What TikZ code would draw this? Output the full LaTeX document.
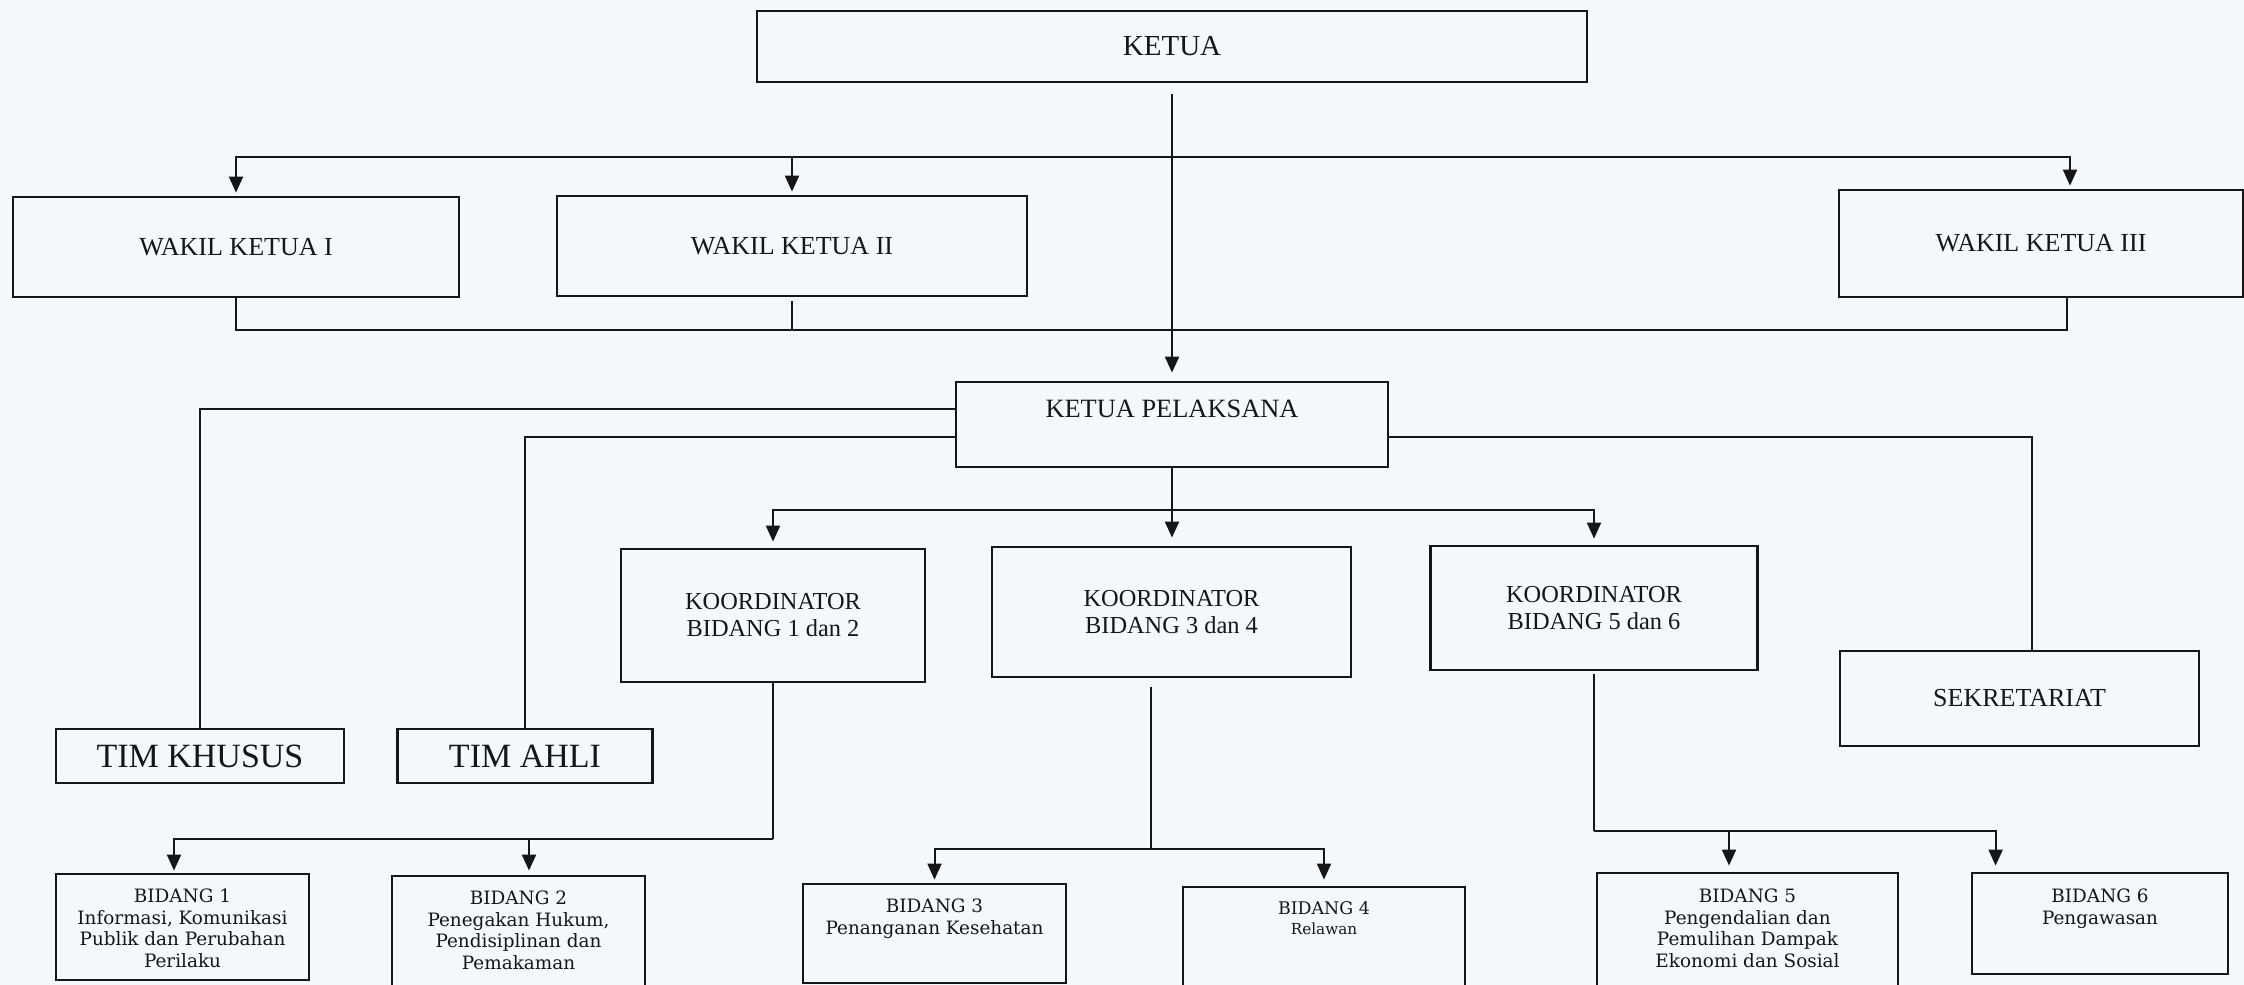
\documentclass[tikz,border=0pt]{standalone}
\usepackage{fontspec}
\setmainfont{Liberation Serif}
\newfontfamily\bfnt{DejaVu Serif}
\usetikzlibrary{arrows.meta,calc}
\definecolor{bgc}{HTML}{F3F8FC}
\definecolor{ink}{HTML}{161616}
\tikzset{
  box/.style={draw=ink, line width=1.4pt, inner sep=0pt, align=center, text=ink},
  con/.style={draw=ink, line width=1pt},
  arr/.style={con, -{Triangle[length=8pt,width=7pt]}},
  btxt/.style={inner sep=0pt, align=center, anchor=north, text=ink, font=\bfnt\fontsize{9.2}{10.8}\selectfont},
}
\begin{document}
\begin{tikzpicture}[x=0.5pt,y=-0.5pt]
\useasboundingbox (0,0) rectangle (2244,985);
\fill[bgc] (0,0) rectangle (2244,985);
\clip (0,0) rectangle (2244,985);

% top level
\node[box, minimum width=415pt, minimum height=35.5pt, font=\fontsize{14.5}{16}\selectfont] (ketua) at (1172,46.5) {KETUA};
\node[box, minimum width=223pt, minimum height=50pt, font=\fontsize{13}{15}\selectfont] (wk1) at (236,247) {WAKIL KETUA I};
\node[box, minimum width=235pt, minimum height=50pt, font=\fontsize{13}{15}\selectfont] (wk2) at (792,246) {WAKIL KETUA II};
\node[box, minimum width=202pt, minimum height=53.5pt, font=\fontsize{13}{15}\selectfont] (wk3) at (2041,243.5) {WAKIL KETUA III};

% ketua pelaksana
\node[box, minimum width=216pt, minimum height=42.5pt] (kp) at (1172,424.5) {};
\node[inner sep=0pt, text=ink, font=\fontsize{13.2}{15}\selectfont] (kpt) at ([yshift=8pt]kp.center) {KETUA PELAKSANA};

% koordinators
\node[box, minimum width=152pt, minimum height=66.5pt, font=\fontsize{12.2}{13.5}\selectfont] (k12) at (773,615.5) {KOORDINATOR\\BIDANG 1 dan 2};
\node[box, minimum width=179.5pt, minimum height=65pt, font=\fontsize{12.2}{13.5}\selectfont] (k34) at (1171.5,612) {KOORDINATOR\\BIDANG 3 dan 4};
\node[box, minimum width=163.5pt, minimum height=62pt, font=\fontsize{12.2}{13.5}\selectfont] (k56) at (1594,608) {KOORDINATOR\\BIDANG 5 dan 6};
\node[box, minimum width=179.5pt, minimum height=47.5pt, font=\fontsize{13}{15}\selectfont] (sek) at (2019.5,698.5) {SEKRETARIAT};

% tim
\node[box, minimum width=144pt, minimum height=27pt, font=\fontsize{17}{19}\selectfont] (timk) at (200,756) {TIM KHUSUS};
\node[box, minimum width=127.5pt, minimum height=27pt, font=\fontsize{17}{19}\selectfont] (tima) at (525,756) {TIM AHLI};

% bidang boxes
\node[box, minimum width=126.5pt, minimum height=53pt] (b1) at (182.5,927) {};
\node[box, minimum width=126.5pt, minimum height=62pt] (b2) at (518.5,938) {};
\node[box, minimum width=131.5pt, minimum height=49.5pt] (b3) at (934.5,933.5) {};
\node[box, minimum width=141pt, minimum height=56.5pt] (b4) at (1324,943.5) {};
\node[box, minimum width=150.5pt, minimum height=63.5pt] (b5) at (1747.5,936.5) {};
\node[box, minimum width=128pt, minimum height=50.5pt] (b6) at (2100,923.5) {};

\node[btxt] (b1t) at ([yshift=-8pt]b1.north) {BIDANG 1\\Informasi, Komunikasi\\Publik dan Perubahan\\Perilaku};
\node[btxt] (b2t) at ([yshift=-8pt]b2.north) {BIDANG 2\\Penegakan Hukum,\\Pendisiplinan dan\\Pemakaman};
\node[btxt] (b3t) at ([yshift=-8pt]b3.north) {BIDANG 3\\Penanganan Kesehatan};
\node[btxt, font=\bfnt\fontsize{8.7}{10}\selectfont] (b4t) at ([yshift=-8pt]b4.north) {BIDANG 4\\{\fontsize{7.6}{10}\selectfont Relawan}};
\node[btxt] (b5t) at ([yshift=-8.5pt]b5.north) {BIDANG 5\\Pengendalian dan\\Pemulihan Dampak\\Ekonomi dan Sosial};
\node[btxt] (b6t) at ([yshift=-8.5pt]b6.north) {BIDANG 6\\Pengawasan};

% bus coordinates
\coordinate (busA) at (1172,157);
\coordinate (busB) at (1172,330);
\coordinate (busC) at (1172,510);
\coordinate (busD) at (773,839);
\coordinate (busE) at (1151,849);
\coordinate (busF) at (1594,831);

% ketua -> ketua pelaksana
\draw[arr, shorten <=5.5pt, shorten >=4pt] (ketua.south) -- (ketua.south |- kp.north);

% ketua bus to wakil
\draw[arr, shorten >=1.5pt] (busA) -| (wk1.north);
\draw[arr, shorten >=1.5pt] (busA) -| (wk2.north);
\draw[arr, shorten >=1.5pt] (busA) -| ([xshift=14.5pt]wk3.north);

% wakil bottom bus
\draw[con] (wk1.south) |- (busB);
\draw[con, shorten <=2pt] (wk2.south) -- (wk2.south |- busB);
\draw[con] ([xshift=13pt]wk3.south) |- (busB);

% ketua pelaksana side lines
\draw[con] ([yshift=7.75pt]kp.west) -| (timk.north);
\draw[con] ([yshift=-6.25pt]kp.west) -| (tima.north);
\draw[con] ([yshift=-6.25pt]kp.east) -| ([xshift=6.25pt]sek.north);

% ketua pelaksana -> koordinator
\draw[arr, shorten >=4pt] (kp.south) -- (kp.south |- k34.north);
\draw[arr, shorten >=3pt] (busC) -| (k12.north);
\draw[arr, shorten >=3pt] (busC) -| (k56.north);

% koordinator 1 dan 2
\draw[con] (k12.south) -- (busD);
\draw[arr, shorten >=1pt] (busD) -| ([xshift=-4.25pt]b1.north);
\draw[arr, shorten >=2pt] (busD) -| ([xshift=5.25pt]b2.north);

% koordinator 3 dan 4
\draw[con, shorten <=4.5pt] ([xshift=-10.25pt]k34.south) -- (busE);
\draw[arr, shorten >=1.5pt] (busE) -| (b3.north);
\draw[arr, shorten >=3pt] (busE) -| (b4.north);

% koordinator 5 dan 6
\draw[con, shorten <=1.5pt] (k56.south) -- (busF);
\draw[arr, shorten >=3pt] (busF) -| ([xshift=-9.25pt]b5.north);
\draw[arr, shorten >=3pt] (busF) -| ([xshift=12.5pt]b6.north west);
\end{tikzpicture}
\end{document}
